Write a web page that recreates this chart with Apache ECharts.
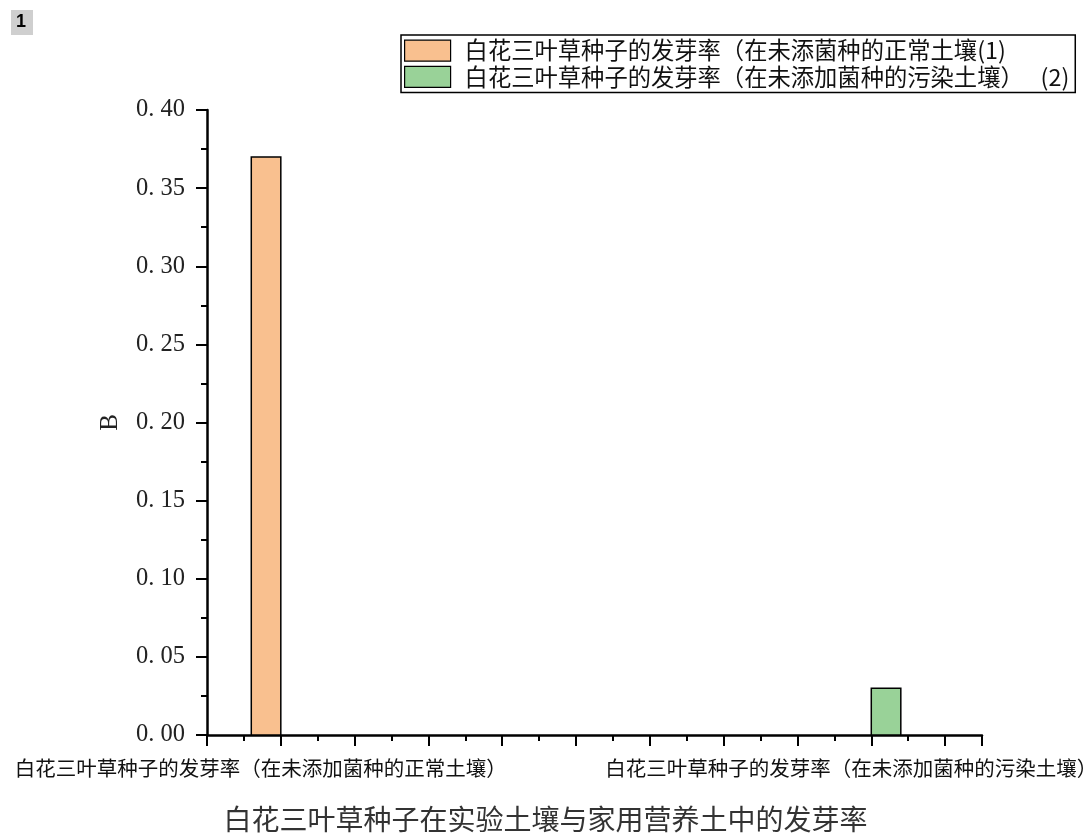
<!DOCTYPE html>
<html>
<head>
<meta charset="utf-8">
<script src="https://cdn.jsdelivr.net/npm/echarts@6/dist/echarts.min.js"></script>
<style>html,body{margin:0;padding:0;background:#fff;}#c{width:1091px;height:835px;}</style>
</head>
<body>
<div id="c"></div>
<script>
// ---- data ----
const seriesNames = [
  '白花三叶草种子的发芽率（在未添菌种的正常土壤(1)',
  '白花三叶草种子的发芽率（在未添加菌种的污染土壤）\u3000 (2)'
];
const categoryLabels = [
  '白花三叶草种子的发芽率（在未添加菌种的正常土壤）',
  '白花三叶草种子的发芽率（在未添加菌种的污染土壤）'
];
const categoryTicks = [1, 9];          // x ticks carrying the category labels
const seriesX = [0.8, 9.2];            // bar centres on the x scale
const seriesValues = [0.37, 0.03];     // germination rate
const barWidthUnits = 0.4;
const yTicks = { min: 0, max: 0.4, interval: 0.05 };
const xRange = { min: 0, max: 10.5, interval: 1 };
const titleText = '白花三叶草种子在实验土壤与家用营养土中的发芽率';
const yName = 'B';
const colors = ['#F9C08F', '#99D298'];

const chart = echarts.init(document.getElementById('c'), null, { renderer: 'canvas' });

function makeSeries(i) {
  return {
    name: seriesNames[i],
    type: 'custom',
    data: [[seriesX[i], seriesValues[i]]],
    itemStyle: { color: colors[i], borderColor: '#000', borderWidth: 1.5 },
    renderItem: function (params, api) {
      const x = api.value(0), y = api.value(1);
      const p0 = api.coord([x - barWidthUnits / 2, y]);
      const p1 = api.coord([x + barWidthUnits / 2, 0]);
      return {
        type: 'rect',
        shape: { x: p0[0], y: p0[1], width: p1[0] - p0[0], height: p1[1] - p0[1] },
        style: { fill: colors[i], stroke: '#000', lineWidth: 1.5 }
      };
    }
  };
}

const option = {
  animation: false,
  backgroundColor: '#fff',
  title: {
    text: titleText,
    left: 'center',
    top: 800,
    textStyle: { fontFamily: 'Noto Sans CJK SC', fontSize: 28, fontWeight: 'normal', color: '#333' }
  },
  legend: {
    orient: 'vertical',
    left: 401,
    top: 35,
    icon: 'rect',
    itemWidth: 46,
    itemHeight: 21,
    itemGap: 3,
    padding: [4, 6, 4, 3],
    borderColor: '#000',
    borderWidth: 1.5,
    backgroundColor: '#fff',
    itemStyle: { borderColor: '#000', borderWidth: 1.2 },
    textStyle: { fontFamily: 'Noto Sans CJK SC', fontSize: 23.3, lineHeight: 21, color: '#111', padding: [0, 0, 0, 9] },
    data: seriesNames
  },
  grid: { left: 207, right: 109, top: 110, bottom: 100, containLabel: false, outerBoundsMode: 'none' },
  xAxis: {
    type: 'value',
    min: xRange.min,
    max: xRange.max,
    interval: xRange.interval,
    splitLine: { show: false },
    axisLine: { show: true, lineStyle: { color: '#000', width: 2.5 } },
    axisTick: { show: true, inside: false, length: 11, lineStyle: { color: '#000', width: 2 } },
    minorTick: { show: true, splitNumber: 2, length: 6, lineStyle: { color: '#000', width: 2 } },
    axisLabel: {
      margin: 23,
      fontFamily: 'Noto Sans CJK SC',
      fontSize: 20.5,
      color: '#111',
      padding: [0, 40, 0, 0],
      formatter: function (v) {
        const idx = categoryTicks.indexOf(Math.round(v * 1000) / 1000);
        return idx >= 0 ? categoryLabels[idx] : '';
      }
    }
  },
  yAxis: {
    type: 'value',
    min: yTicks.min,
    max: yTicks.max,
    interval: yTicks.interval,
    name: yName,
    nameLocation: 'middle',
    nameGap: 84,
    nameRotate: 90,
    nameTextStyle: { fontFamily: 'Liberation Serif', fontSize: 25, color: '#222' },
    splitLine: { show: false },
    axisLine: { show: true, lineStyle: { color: '#000', width: 2.5 } },
    axisTick: { show: true, inside: false, length: 11, lineStyle: { color: '#000', width: 2 } },
    minorTick: { show: true, splitNumber: 2, length: 6, lineStyle: { color: '#000', width: 2 } },
    axisLabel: {
      margin: 22,
      fontFamily: 'Liberation Serif',
      fontSize: 24.5,
      color: '#222',
      formatter: function (v) { return v.toFixed(2).replace('.', '. '); }
    }
  },
  graphic: [
    { type: 'rect', left: 11, top: 10, shape: { width: 22, height: 25 }, style: { fill: '#cfcfcf' } },
    { type: 'text', left: 16, top: 13, style: { text: '1', font: 'bold 18px Liberation Sans', fill: '#000' } }
  ],
  series: [makeSeries(0), makeSeries(1)]
};
chart.setOption(option);
</script>
</body>
</html>
